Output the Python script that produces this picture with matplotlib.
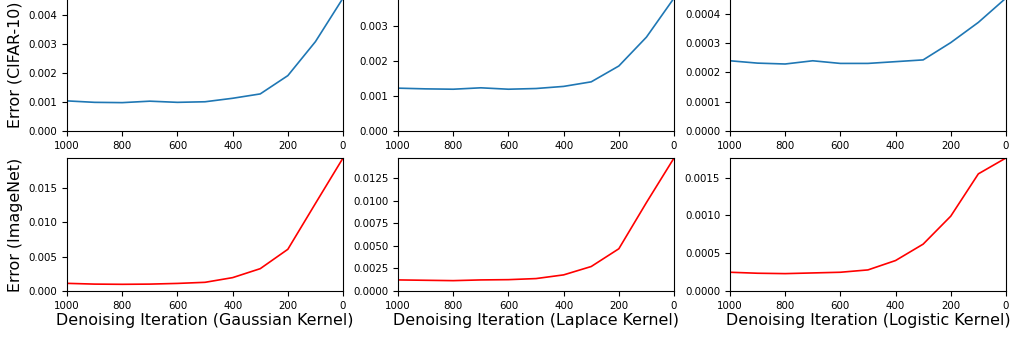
import matplotlib
matplotlib.use("Agg")
import matplotlib.pyplot as plt

iters = [1000, 900, 800, 700, 600, 500, 400, 300, 200, 100, 0]
kernels = ["Gaussian", "Laplace", "Logistic"]

cifar_gaussian = [0.00104, 0.00099, 0.00098, 0.00103, 0.00099, 0.00101, 0.00113, 0.00128, 0.00191, 0.00308, 0.00458]
cifar_laplace = [0.00122, 0.00120, 0.00119, 0.00123, 0.00119, 0.00121, 0.00127, 0.00140, 0.00185, 0.00267, 0.00378]
cifar_logistic = [0.000240, 0.000232, 0.000229, 0.000240, 0.000231, 0.000231, 0.000237, 0.000243, 0.000302, 0.000371, 0.000454]

imagenet_gaussian = [0.00111, 0.00100, 0.00097, 0.00100, 0.00110, 0.00126, 0.00194, 0.00324, 0.00605, 0.0127, 0.0193]
imagenet_laplace = [0.00123, 0.00119, 0.00115, 0.00123, 0.00126, 0.00138, 0.00179, 0.00272, 0.00469, 0.00982, 0.01477]
imagenet_logistic = [0.000248, 0.000235, 0.000230, 0.000239, 0.000248, 0.000279, 0.000403, 0.000620, 0.000990, 0.00155, 0.00176]

cifar = [cifar_gaussian, cifar_laplace, cifar_logistic]
imagenet = [imagenet_gaussian, imagenet_laplace, imagenet_logistic]

fig = plt.figure(figsize=(10.11, 3.37), dpi=100)
lefts = [0.0663, 0.3937, 0.722]
w = 0.273
h = 0.3947
tick_fs = 7.4
label_fs = 11.4
for i in range(3):
    ax1 = fig.add_axes([lefts[i], 0.611, w, h])
    ax1.plot(iters, cifar[i], color="#1f77b4", lw=1.2)
    ax1.set_xlim(1000, 0)
    ax1.set_ylim(0, max(cifar[i]))
    ax1.tick_params(labelsize=tick_fs)
    ax2 = fig.add_axes([lefts[i], 0.1365, w, h])
    ax2.plot(iters, imagenet[i], color="red", lw=1.2)
    ax2.set_xlim(1000, 0)
    ax2.set_ylim(0, max(imagenet[i]))
    ax2.tick_params(labelsize=tick_fs)
    ax2.set_xlabel(f"Denoising Iteration ({kernels[i]} Kernel)", fontsize=label_fs, labelpad=2)
    if i == 0:
        ax1.set_ylabel("Error (CIFAR-10)", fontsize=label_fs)
        ax2.set_ylabel("Error (ImageNet)", fontsize=label_fs)

fig.savefig("out.png", dpi=100)
